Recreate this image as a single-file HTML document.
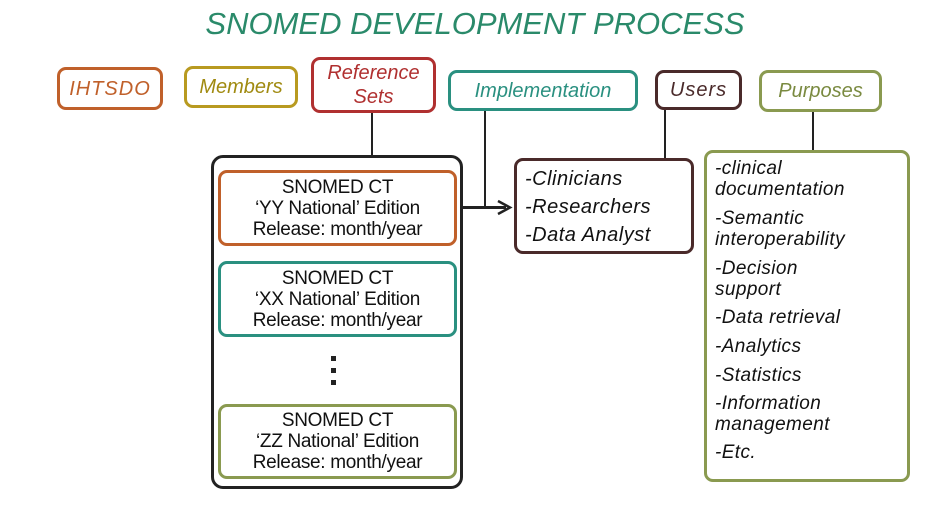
<!DOCTYPE html>
<html><head><meta charset="utf-8"><style>
body{margin:0;width:925px;height:511px;background:#fff;position:relative;overflow:hidden;font-family:"Liberation Sans",sans-serif;font-style:italic;color:#111}
.b{position:absolute;box-sizing:border-box;border:3px solid;border-radius:9px;background:#fff}
.c{display:flex;align-items:center;justify-content:center;text-align:center;line-height:22px}
.l{position:absolute;background:#222}
.t{font-size:19px;line-height:21px;text-align:center;font-style:normal;letter-spacing:-0.3px}
.p{font-size:19px;line-height:22px;padding-left:8px}
</style></head><body>
<div style="position:absolute;left:0;width:950px;top:6px;text-align:center;font-size:31px;color:#2a8a6a;letter-spacing:0px">SNOMED DEVELOPMENT PROCESS</div>

<div class="b c" style="left:57px;top:67px;width:106px;height:43px;border-color:#c0602a;color:#c0602a;font-size:20px;letter-spacing:1px">IHTSDO</div>
<div class="b c" style="left:184px;top:66px;width:114px;height:42px;border-color:#b89a20;color:#a08a10;font-size:20px">Members</div>
<div class="b c" style="left:311px;top:57px;width:125px;height:56px;border-color:#b03030;color:#b03030;font-size:20px;line-height:24px">Reference<br>Sets</div>
<div class="b c" style="left:448px;top:70px;width:190px;height:41px;border-color:#2a9080;color:#2a9080;font-size:20px">Implementation</div>
<div class="b c" style="left:655px;top:70px;width:87px;height:40px;border-color:#4a2a2a;color:#4a2a2a;font-size:20px;letter-spacing:1px">Users</div>
<div class="b c" style="left:759px;top:70px;width:123px;height:42px;border-color:#8a9a50;color:#7a8a40;font-size:20px">Purposes</div>

<div class="l" style="left:371px;top:113px;width:2px;height:43px"></div>
<div class="l" style="left:484px;top:111px;width:2px;height:97px"></div>
<div class="l" style="left:462px;top:206px;width:44px;height:3px"></div>
<svg style="position:absolute;left:496px;top:199px" width="18" height="17"><path d="M2 2 L14 8.5 L2 15" fill="none" stroke="#222" stroke-width="2.5"/></svg>
<div class="l" style="left:664px;top:110px;width:2px;height:50px"></div>
<div class="l" style="left:812px;top:112px;width:2px;height:40px"></div>

<div class="b" style="left:211px;top:155px;width:252px;height:334px;border-color:#222;border-radius:12px"></div>
<div class="b c t" style="left:218px;top:170px;width:239px;height:76px;border-color:#c0602a;flex-direction:column">SNOMED CT<br>‘YY National’ Edition<br>Release: month/year</div>
<div class="b c t" style="left:218px;top:261px;width:239px;height:76px;border-color:#2a9080;flex-direction:column">SNOMED CT<br>‘XX National’ Edition<br>Release: month/year</div>
<div style="position:absolute;left:331px;top:356px;width:6px">
<div style="width:5px;height:5px;background:#222;margin-bottom:7px"></div><div style="width:5px;height:5px;background:#222;margin-bottom:7px"></div><div style="width:5px;height:5px;background:#222"></div></div>
<div class="b c t" style="left:218px;top:404px;width:239px;height:75px;border-color:#8a9a50;flex-direction:column">SNOMED CT<br>‘ZZ National’ Edition<br>Release: month/year</div>

<div class="b p" style="left:514px;top:158px;width:180px;height:96px;border-color:#4a2a2a;padding-top:4px;line-height:28px;font-size:20px;letter-spacing:0.5px">-Clinicians<br>-Researchers<br>-Data Analyst</div>

<div class="b p" style="left:704px;top:150px;width:206px;height:332px;border-color:#8a9a50;padding-top:5px;font-size:19px;letter-spacing:0.4px">
<div style="line-height:21px">-clinical<br>documentation</div>
<div style="line-height:21px;margin-top:8px">-Semantic<br>interoperability</div>
<div style="line-height:21px;margin-top:8px">-Decision<br>support</div>
<div style="margin-top:7px">-Data retrieval</div>
<div style="margin-top:7px">-Analytics</div>
<div style="margin-top:7px">-Statistics</div>
<div style="line-height:21px;margin-top:6px">-Information<br>management</div>
<div style="margin-top:7px">-Etc.</div>
</div>
</body></html>
